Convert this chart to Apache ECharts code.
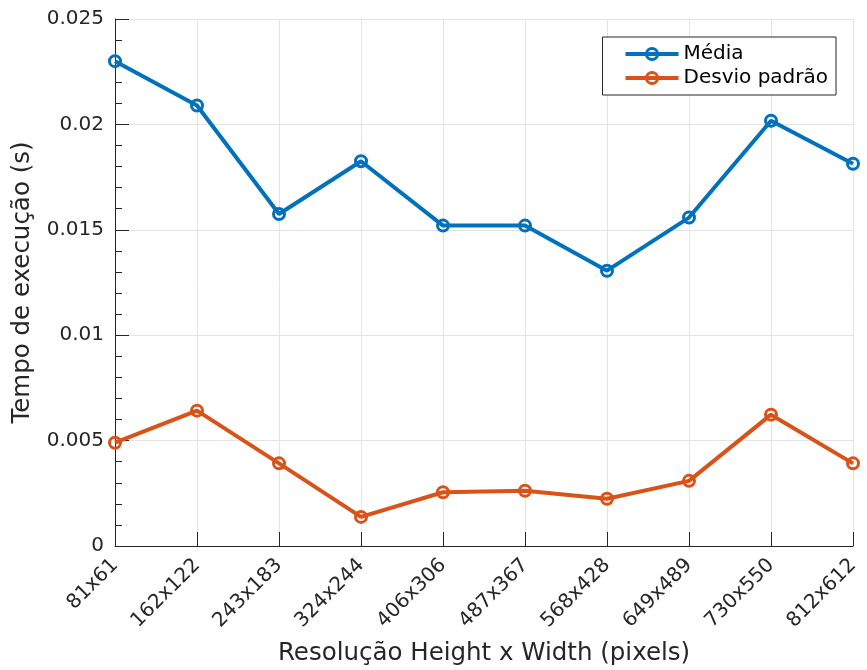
<!DOCTYPE html>
<html>
<head>
<meta charset="utf-8">
<script src="https://cdn.jsdelivr.net/npm/echarts@6/dist/echarts.min.js"></script>
<style>
  html, body { margin: 0; padding: 0; background: #fff; }
  #chart { width: 867px; height: 670px; }
</style>
</head>
<body>
<div id="chart"></div>
<script>
// Resolutions tested (Height x Width)
const resolutions = ['81x61', '162x122', '243x183', '324x244', '406x306',
                     '487x367', '568x428', '649x489', '730x550', '812x612'];
// Mean execution time (s)
const media = [0.0230, 0.0209, 0.01575, 0.01825, 0.0152, 0.0152, 0.01306, 0.01558, 0.02017, 0.01813];
// Standard deviation (s)
const desvio = [0.0049, 0.00642, 0.00392, 0.00138, 0.00255, 0.00262, 0.00224, 0.00309, 0.00623, 0.00392];
const yTicks = [0, 0.005, 0.01, 0.015, 0.02, 0.025];

const ink = '#262626';
const font = 'DejaVu Sans';

const chart = echarts.init(document.getElementById('chart'), null, { renderer: 'canvas' });

function lineSeries(name, data, color) {
  return {
    name: name,
    type: 'line',
    data: data,
    symbol: 'circle',
    symbolSize: 11,
    lineStyle: { color: color, width: 4 },
    itemStyle: { color: 'rgba(255,255,255,0)', borderColor: color, borderWidth: 3 },
    emphasis: { disabled: true },
    animation: false
  };
}

chart.setOption({
  animation: false,
  backgroundColor: '#fff',
  textStyle: { fontFamily: font, color: ink },
  grid: { left: 115, right: 14, top: 19, bottom: 124, containLabel: false, outerBoundsMode: 'none' },
  legend: {
    orient: 'vertical',
    right: 31,
    top: 37,
    padding: [7, 8, 7, 21],
    itemGap: 4,
    itemWidth: 53,
    itemHeight: 14,
    backgroundColor: '#fff',
    borderColor: ink,
    borderWidth: 1,
    borderRadius: 0,
    lineStyle: { width: 4 },
    itemStyle: { borderWidth: 3 },
    textStyle: { fontFamily: font, fontSize: 20, lineHeight: 20, color: '#000' },
    data: ['Média', 'Desvio padrão']
  },
  xAxis: {
    type: 'category',
    data: resolutions,
    boundaryGap: false,
    name: 'Resolução Height x Width (pixels)',
    nameLocation: 'middle',
    nameGap: 95,
    nameTextStyle: { fontFamily: font, fontSize: 24.5, color: ink },
    axisLine: { show: true, lineStyle: { color: ink, width: 1 } },
    axisTick: { show: true, inside: true, length: 14, alignWithLabel: true, lineStyle: { color: ink } },
    axisLabel: { rotate: 45, fontSize: 20, color: ink, margin: 16, fontFamily: font },
    splitLine: { show: true, lineStyle: { color: '#e3e3e3', width: 1 } }
  },
  yAxis: {
    type: 'value',
    min: 0,
    max: 0.025,
    interval: 0.005,
    name: 'Tempo de execução (s)',
    nameLocation: 'middle',
    nameGap: 80,
    nameRotate: 90,
    nameTextStyle: { fontFamily: font, fontSize: 24.5, color: ink },
    axisLine: { show: true, lineStyle: { color: ink, width: 1 } },
    axisTick: { show: true, inside: true, length: 14, lineStyle: { color: ink } },
    minorTick: { show: true, splitNumber: 5, length: 7, lineStyle: { color: ink } },
    axisLabel: {
      fontSize: 20, color: ink, margin: 11, fontFamily: font,
      formatter: v => {
        const t = yTicks.find(x => Math.abs(x - v) < 1e-9);
        return String(t !== undefined ? t : v);
      }
    },
    splitLine: { show: true, lineStyle: { color: '#e3e3e3', width: 1 } }
  },
  series: [
    lineSeries('Média', media, '#0072BD'),
    lineSeries('Desvio padrão', desvio, '#D95319')
  ]
});
</script>
</body>
</html>
